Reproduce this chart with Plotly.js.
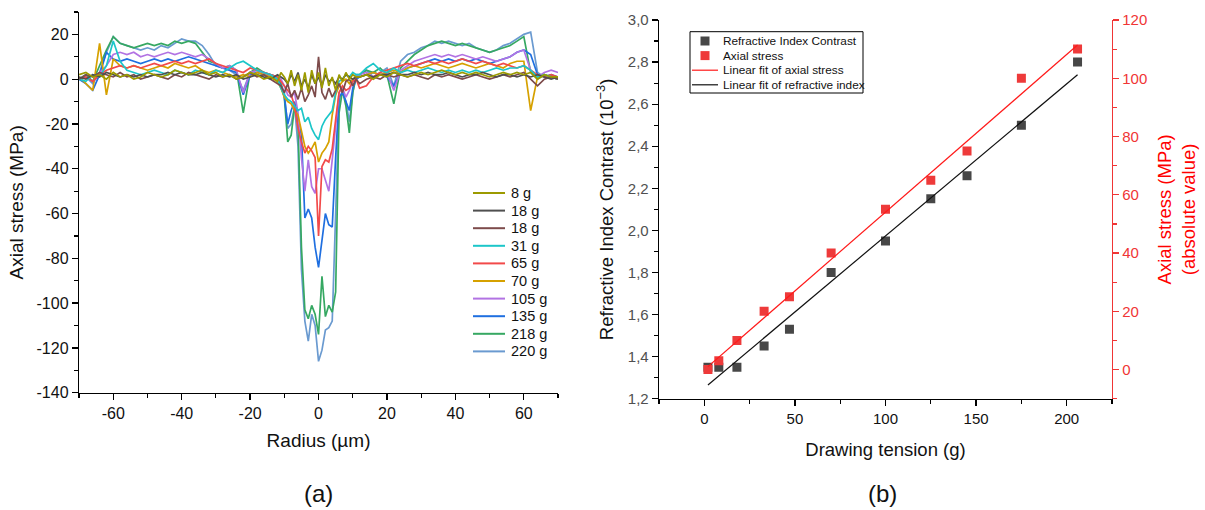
<!DOCTYPE html>
<html><head><meta charset="utf-8">
<script src="https://cdn.plot.ly/plotly-3.0.1.min.js"></script>
<style>html,body{margin:0;padding:0;background:#fff}#chart{width:1205px;height:510px}</style>
</head><body><div id="chart"></div>
<script>
// ---------- Panel (a): axial stress profiles ----------
const radius = [-70,-68,-66,-64,-62,-60,-58,-56,-54,-52,-50,-48,-46,-44,-42,-40,-38,-36,-34,-32,-30,-28,-26,-24,-22,-20,-18,-16,-14,-12,
  -11,-10,-9,-8,-7,-6,-5,-4,-3,-2,-1,0,1,2,3,4,5,6,7,8,9,10,11,
  12,14,16,18,20,22,24,26,28,30,32,34,36,38,40,42,44,46,48,50,52,54,56,58,60,62,64,66,68,70];

const s8 = [2,3,1,2,0,3,1,2,0,1, 3,2,1,2,4,3,2,3,4,2, 3,1,2,0,1,3,2,0,1,-1,
  3,1,-2,4,-3,2,-5,3,-6,4, -2,3,-4,5,-3,1,-5,2,-1,3, 0,2,1,
  1,2,0,2,1,3,2,1,2,3, 2,3,4,3,2,3,2,3,2,1, 2,3,2,3,2,3,0,2,1,1];
const s18a = [1,0,2,1,3,2,1,2,1,2, 1,2,2,3,2,3,2,2,3,2, 1,2,1,2,0,1,2,1,0,2,
  1,0,-2,2,-1,3,-3,0,-4,2, -2,1,-3,2,-1,0,-2,1,0,2, 1,0,1,
  1,2,1,2,2,3,2,2,3,2, 3,2,2,3,2,1,2,2,3,2, 1,2,2,1,2,1,2,1,0,1];
const s18b = [0,2,1,3,2,1,3,1,2,0, 1,2,1,0,2,1,3,2,1,0, 2,1,2,0,1,3,1,2,0,-2,
  -3,-6,-2,-8,-5,-9,-4,-10,-7,-3, -8,10,-6,-9,-4,-8,-5,-2,-6,-1, 0,-3,0,
  -2,0,1,0,2,1,2,1,2,1, 0,2,1,2,1,0,1,2,1,0, 1,2,1,2,3,0,-3,0,1,0];
const s31 = [0,-1,2,1,6,17,8,4,3,2, 3,4,3,2,4,3,2,4,3,2, 4,3,5,7,8,6,4,3,2,0,
  -4,-7,-9,-10,-12,-14,-13,-19,-17,-22, -25,-27,-21,-18,-16,-14,-6,-1,0,2, 1,3,2,
  2,5,7,4,3,5,3,4,3,4, 5,4,3,4,3,4,3,4,3,4, 5,4,5,5,6,4,1,2,1,0];
const s65 = [0,1,-1,2,4,5,6,5,6,5, 6,7,6,7,8,7,8,7,8,9, 7,6,5,4,3,5,4,3,2,1,
  -1,-3,-5,-7,-12,-22,-28,-33,-30,-32, -35,-70,-39,-36,-37,-31,-18,-6,-3,-5, -4,-1,0,
  -4,-3,1,3,4,5,6,7,6,7, 8,7,8,7,8,9,8,7,8,7, 6,7,6,5,6,4,2,1,2,1];
const s70 = [1,-2,-5,16,-7,9,6,5,6,5, 4,5,6,5,7,6,5,6,4,3, 4,3,2,1,2,1,3,2,1,-1,
  -4,-8,-10,-11,-14,-16,-23,-30,-33,-31, -28,-37,-33,-31,-28,-16,-7,-3,-1,0, -2,0,1,
  1,2,3,2,3,4,3,5,6,5, 6,7,6,5,6,7,6,5,6,7, 6,5,7,8,8,-14,1,2,1,0];
const s105 = [0,1,-1,3,6,11,12,11,12,10, 11,10,11,12,11,12,11,10,11,9, 7,5,6,4,-6,3,4,3,2,1,
  0,-3,-7,-8,-6,-15,-35,-50,-36,-48, -51,-40,-40,-45,-50,-36,-21,-6,-4,-8, -5,-1,1,
  2,3,1,2,3,-5,4,6,8,9, 10,11,10,11,10,11,10,9,10,9, 8,9,10,12,13,4,1,3,4,3];
const s135 = [0,-2,-5,2,12,9,8,9,8,7, 8,9,8,9,8,9,10,9,8,7, 6,5,4,3,-7,2,3,2,1,0,
  -3,-8,-20,-14,-10,-18,-25,-62,-58,-62, -75,-84,-72,-60,-65,-66,-35,-8,-6,-10, -14,-4,0,
  1,2,3,2,1,-3,3,5,6,7, 8,9,8,9,8,9,8,9,8,7, 8,9,10,12,13,11,2,1,2,1];
const s218 = [0,2,-1,6,13,19,16,15,14,15, 16,15,16,15,17,16,17,16,12,8, 7,5,6,4,-15,3,5,3,2,1,
  -2,-8,-28,-25,-12,-20,-75,-103,-107,-101, -105,-114,-88,-106,-101,-104,-95,-15,-5,-12, -24,-6,1,
  2,4,3,5,2,-11,5,8,11,13, 15,16,17,16,15,16,15,14,13,12, 13,14,15,17,19,3,0,2,1,0];
const s220 = [0,1,-2,3,12,19,16,15,14,13, 14,13,15,14,16,18,17,17,15,11, 6,5,4,2,-5,3,4,3,2,1,
  -2,-6,-22,-20,-12,-30,-85,-108,-117,-105, -110,-126,-121,-112,-111,-108,-60,-10,-5,-10, -19,-6,2,
  2,4,1,3,5,-3,8,11,12,14, 15,17,16,17,16,15,16,14,13,12, 13,15,16,18,20,21,3,1,2,0];

const seriesNames = ['8 g','18 g','18 g','31 g','65 g','70 g','105 g','135 g','218 g','220 g'];
const seriesData = [s8, s18a, s18b, s31, s65, s70, s105, s135, s218, s220];
const seriesColors = ['#9c9a00','#4f4f4f','#7d4b4b','#1cc6c9','#f24a4a','#d6a100','#b273e3','#1f6fe0','#36a862','#6a9ad0'];

const radiusTicks = [-60,-40,-20,0,20,40,60];
const stressTicks = [20,0,-20,-40,-60,-80,-100,-120,-140];

// ---------- Panel (b): drawing tension ----------
const tension = [2, 8, 18, 33, 47, 70, 100, 125, 145, 175, 206];
const riContrast = [1.35, 1.35, 1.35, 1.45, 1.53, 1.80, 1.95, 2.15, 2.26, 2.50, 2.80];
const axialStress = [0, 3, 10, 20, 25, 40, 55, 65, 75, 100, 110];
const fitTension = [2, 206];
const riFit = [1.265, 2.74];
const axialFit = [1.0, 111.4];
const tensionTicks = [0, 50, 100, 150, 200];
const riTicks = [1.2, 1.4, 1.6, 1.8, 2.0, 2.2, 2.4, 2.6, 2.8, 3.0];
const riTickText = ['1,2','1,4','1,6','1,8','2,0','2,2','2,4','2,6','2,8','3,0'];
const axialTicks = [0, 20, 40, 60, 80, 100, 120];
const legendBNames = ['Refractive Index Contrast','Axial stress','Linear fit of axial stress','Linear fit of refractive index'];
const legendBColors = ['#474747','#ee3a3a','#ff1a1a','#111111'];
const legendBKinds = ['square','square','line','line'];

const W = 1205, H = 510;
const FONT = 'Arial, "Liberation Sans", sans-serif';
const RED = '#f03535';
const px = v => v / W, py = v => 1 - v / H;

const traces = [];
for (let i = seriesData.length - 1; i >= 0; i--) {
  traces.push({
    type: 'scatter', mode: 'lines', x: radius, y: seriesData[i],
    name: seriesNames[i], showlegend: false,
    line: {color: seriesColors[i], width: 1.7},
    xaxis: 'x', yaxis: 'y'
  });
}
traces.push({type:'scatter', mode:'markers', x: tension, y: riContrast, name: legendBNames[0], showlegend:false,
  marker:{symbol:'square', size:9, color: legendBColors[0]}, xaxis:'x2', yaxis:'y2'});
traces.push({type:'scatter', mode:'markers', x: tension, y: axialStress, name: legendBNames[1], showlegend:false,
  marker:{symbol:'square', size:9, color: legendBColors[1]}, xaxis:'x2', yaxis:'y3'});
traces.push({type:'scatter', mode:'lines', x: fitTension, y: axialFit, name: legendBNames[2], showlegend:false,
  line:{color: legendBColors[2], width:1.2}, xaxis:'x2', yaxis:'y3'});
traces.push({type:'scatter', mode:'lines', x: fitTension, y: riFit, name: legendBNames[3], showlegend:false,
  line:{color: legendBColors[3], width:1.2}, xaxis:'x2', yaxis:'y2'});

// ---- legends drawn as shapes + text ----
const shapes = [];
const annotations = [
  {text:'(a)', x:px(318.5), y:py(493), xref:'paper', yref:'paper', xanchor:'center', yanchor:'middle', showarrow:false, font:{size:24, color:'#111'}},
  {text:'(b)', x:px(883), y:py(493), xref:'paper', yref:'paper', xanchor:'center', yanchor:'middle', showarrow:false, font:{size:24, color:'#111'}}
];
seriesNames.forEach((name, i) => {
  const yy = py(193 + 17.6 * i);
  shapes.push({type:'line', xref:'paper', yref:'paper', x0:px(473), x1:px(505), y0:yy, y1:yy,
    line:{color: seriesColors[i], width:2}});
  annotations.push({text: name, x:px(509), y:yy, xref:'paper', yref:'paper', xanchor:'left', yanchor:'middle',
    showarrow:false, font:{size:14.5, color:'#111'}});
});
shapes.push({type:'rect', xref:'paper', yref:'paper', x0:px(690), x1:px(863), y0:py(31.7), y1:py(93),
  line:{color:'#000', width:1}, fillcolor:'#fff', layer:'above'});
legendBNames.forEach((name, i) => {
  const cy = 41 + 14.6 * i;
  if (legendBKinds[i] === 'square') {
    shapes.push({type:'rect', xref:'paper', yref:'paper', x0:px(700.5), x1:px(709.5), y0:py(cy + 4.5), y1:py(cy - 4.5),
      line:{width:0}, fillcolor: legendBColors[i]});
  } else {
    shapes.push({type:'line', xref:'paper', yref:'paper', x0:px(692), x1:px(718), y0:py(cy), y1:py(cy),
      line:{color: legendBColors[i], width:1.2}});
  }
  annotations.push({text: name, x:px(721), y:py(cy), xref:'paper', yref:'paper', xanchor:'left', yanchor:'middle',
    showarrow:false, font:{size:11.8, color:'#111'}});
});

const baseAxis = {showgrid:false, zeroline:false, showline:true, linecolor:'#000', linewidth:1.3,
  ticks:'outside', ticklen:6, tickwidth:1.3, tickcolor:'#000', fixedrange:true};

const layout = {
  width:W, height:H, margin:{l:0,r:0,t:0,b:0},
  paper_bgcolor:'#fff', plot_bgcolor:'rgba(0,0,0,0)',
  font:{family:FONT, color:'#111'},
  showlegend:false,
  xaxis: Object.assign({}, baseAxis, {
    domain:[0.0656, 0.4631], anchor:'y', range:[-70,70],
    tickmode:'array', tickvals: radiusTicks, ticktext: radiusTicks.map(String),
    tickfont:{size:16, color:'#111'},
    minor:{ticks:'outside', ticklen:3.5, tickwidth:1.2, tickcolor:'#000', dtick:10, tick0:0},
    title:{text:'Radius (µm)', font:{size:19, color:'#111'}, standoff:12}
  }),
  yaxis: Object.assign({}, baseAxis, {
    domain:[0.2300, 0.9765], anchor:'x', range:[-140,30],
    tickmode:'array', tickvals: stressTicks, ticktext: stressTicks.map(String),
    tickfont:{size:16, color:'#111'},
    minor:{ticks:'outside', ticklen:3.5, tickwidth:1.2, tickcolor:'#000', dtick:10, tick0:0},
    title:{text:'Axial stress (MPa)', font:{size:19, color:'#111'}, standoff:8}
  }),
  xaxis2: Object.assign({}, baseAxis, {
    domain:[0.5469, 0.9228], anchor:'y2', range:[-25,225],
    tickmode:'array', tickvals: tensionTicks, ticktext: tensionTicks.map(String),
    tickfont:{size:15, color:'#111'},
    minor:{ticks:'outside', ticklen:4, tickwidth:1.2, tickcolor:'#000', dtick:25, tick0:0},
    title:{text:'Drawing tension (g)', font:{size:18.5, color:'#111'}, standoff:17}
  }),
  xaxis3: Object.assign({}, baseAxis, {
    overlaying:'x2', anchor:'y2', side:'top', range:[-25,225],
    tickmode:'linear', tick0:0, dtick:25, ticks:'inside', ticklen:6, showticklabels:false
  }),
  yaxis2: Object.assign({}, baseAxis, {
    domain:[0.2182, 0.9608], anchor:'x2', range:[1.2,3.0],
    tickmode:'array', tickvals: riTicks, ticktext: riTickText,
    tickfont:{size:15, color:'#505050'},
    minor:{ticks:'outside', ticklen:3.5, tickwidth:1.2, tickcolor:'#000', dtick:0.1, tick0:0},
    title:{text:'Refractive Index Contrast (10<sup>−3</sup>)', font:{size:18.5, color:'#111'}, standoff:9}
  }),
  yaxis3: Object.assign({}, baseAxis, {
    overlaying:'y2', anchor:'x2', side:'right', range:[-10,120],
    linecolor:RED, tickcolor:RED,
    tickmode:'array', tickvals: axialTicks, ticktext: axialTicks.map(String),
    tickfont:{size:15, color:RED},
    minor:{ticks:'outside', ticklen:3.5, tickwidth:1.2, tickcolor:RED, dtick:10, tick0:0},
    title:{text:'Axial stress (MPa)<br>(absolute value)', font:{size:18.5, color:'#ff0000'}, standoff:11}
  }),
  shapes: shapes,
  annotations: annotations
};

Plotly.newPlot('chart', traces, layout, {displayModeBar:false, staticPlot:true});
</script>
</body></html>
